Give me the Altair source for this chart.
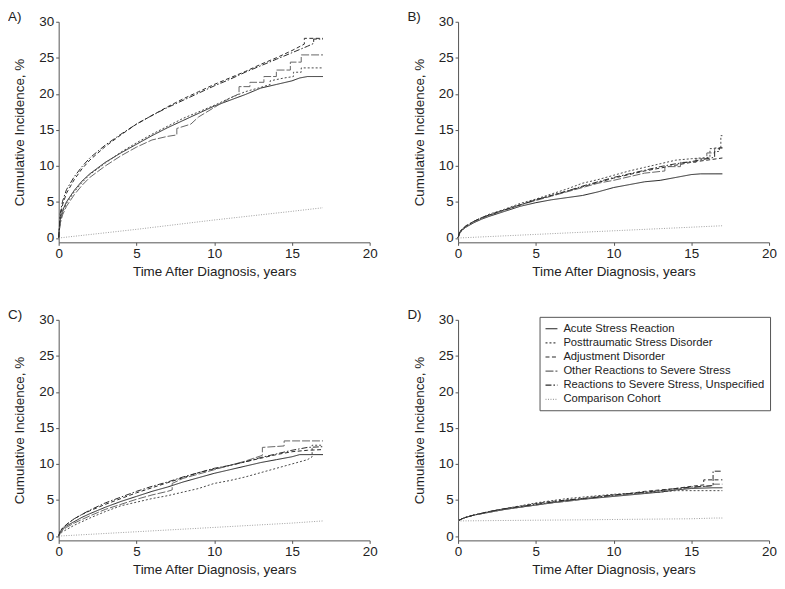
import altair as alt
import pandas as pd

SERIES = [
    "Acute Stress Reaction",
    "Posttraumatic Stress Disorder",
    "Adjustment Disorder",
    "Other Reactions to Severe Stress",
    "Reactions to Severe Stress, Unspecified",
    "Comparison Cohort",
]
COLORS = ["#222222", "#4a4a4a", "#2a2a2a", "#666666", "#2a2a2a", "#a0a0a0"]
DASHES = [[1, 0], [2, 2], [4, 2.5], [8, 2], [6, 2, 1.5, 2], [1, 1.5]]

X_TICKS = [0, 5, 10, 15, 20]
Y_TICKS = [0, 5, 10, 15, 20, 25, 30]

# ---- Panel A ----
A_ACUTE = [[0, 0], [0.1, 2.5], [0.25, 3.8], [0.5, 5.0], [1, 6.6], [1.5, 7.9], [2, 8.9], [3, 10.5], [4, 11.8],
           [5, 13.0], [6, 14.2], [7, 15.3], [8, 16.3], [9, 17.3], [10, 18.3], [11, 19.1], [12, 19.9],
           [13, 20.8], [14, 21.3], [15, 21.8], [15.5, 22.2], [16, 22.4], [17, 22.4]]
A_PTSD = [[0, 0], [0.1, 2.2], [0.25, 3.5], [0.5, 4.8], [1, 6.4], [1.5, 7.7], [2, 8.8], [3, 10.4], [4, 11.9],
          [5, 13.2], [6, 14.4], [7, 15.5], [8, 16.6], [9, 17.5], [10, 18.4], [11, 19.4], [12, 20.3],
          [13, 20.9], [13.6, 21.3], [13.6, 21.8], [14.5, 22.2], [15.1, 22.4], [15.1, 23.0], [15.6, 23.0],
          [15.6, 23.6], [17, 23.6]]
A_ADJ = [[0, 0], [0.1, 3.0], [0.25, 4.6], [0.5, 6.2], [1, 8.1], [1.5, 9.6], [2, 10.8], [3, 12.7], [4, 14.3],
         [5, 15.8], [6, 17.0], [7, 18.2], [8, 19.3], [9, 20.3], [10, 21.3], [11, 22.2], [12, 23.1],
         [13, 24.1], [14, 25.0], [15, 26.0], [15.8, 26.9], [15.8, 27.7], [17, 27.7]]
A_OTHER = [[0, 0], [0.1, 2.0], [0.25, 3.2], [0.5, 4.4], [1, 6.0], [1.5, 7.3], [2, 8.4], [3, 10.0], [4, 11.4],
           [5, 12.6], [6, 13.6], [7, 14.1], [7.6, 14.3], [7.6, 15.2], [8.5, 15.8], [9, 16.8], [10, 18.1],
           [11, 19.4], [11.6, 20.0], [11.6, 21.0], [12.3, 21.0], [12.3, 21.6], [13.2, 21.6], [13.2, 22.4],
           [14, 22.4], [14, 23.3], [14.9, 23.3], [14.9, 24.4], [15.6, 24.4], [15.6, 25.4], [17, 25.4]]
A_UNSP = [[0, 0], [0.1, 3.4], [0.25, 5.1], [0.5, 6.7], [1, 8.5], [1.5, 9.9], [2, 11.1], [3, 12.9], [4, 14.4],
          [5, 15.8], [6, 17.0], [7, 18.1], [8, 19.1], [9, 20.1], [10, 21.1], [11, 22.0], [12, 23.0],
          [13, 23.9], [14, 24.8], [15, 25.7], [16, 26.6], [16.4, 27.0], [16.4, 27.6], [17, 27.6]]
A_COMP = [[0, 0], [5, 1.2], [10, 2.5], [15, 3.7], [17, 4.2]]

# ---- Panel B ----
B_ACUTE = [[0, 0], [0.1, 0.7], [0.25, 1.1], [0.5, 1.5], [1, 2.1], [1.5, 2.6], [2, 3.0], [3, 3.7], [4, 4.4],
           [5, 4.9], [6, 5.3], [7, 5.6], [8, 5.9], [9, 6.4], [10, 7.0], [11, 7.4], [12, 7.8], [13, 8.0],
           [14, 8.4], [15, 8.8], [15.6, 8.9], [17, 8.9]]
B_PTSD = [[0, 0], [0.1, 0.8], [0.25, 1.2], [0.5, 1.6], [1, 2.3], [1.5, 2.8], [2, 3.3], [3, 4.0], [4, 4.8],
          [5, 5.4], [6, 6.1], [7, 6.8], [8, 7.6], [9, 8.1], [10, 8.7], [11, 9.3], [12, 9.8], [13, 10.3],
          [14, 10.8], [15, 11.0], [16.2, 11.2], [16.2, 12.4], [16.9, 12.4], [16.9, 14.2], [17, 14.2]]
B_ADJ = [[0, 0], [0.1, 0.8], [0.25, 1.2], [0.5, 1.6], [1, 2.3], [1.5, 2.8], [2, 3.2], [3, 3.9], [4, 4.6],
         [5, 5.3], [6, 5.9], [7, 6.5], [8, 7.1], [9, 7.7], [10, 8.3], [11, 8.8], [12, 9.3], [13, 9.7],
         [14, 10.1], [15, 10.5], [16, 10.8], [17, 11.1]]
B_OTHER = [[0, 0], [0.1, 0.6], [0.25, 1.0], [0.5, 1.5], [1, 2.2], [1.5, 2.7], [2, 3.1], [3, 3.9], [4, 4.6],
           [5, 5.2], [6, 5.8], [7, 6.4], [8, 7.0], [9, 7.6], [10, 8.0], [11, 8.5], [12, 9.0], [13.3, 9.3],
           [13.3, 9.9], [14.3, 9.9], [14.3, 10.5], [15.3, 10.5], [15.3, 11.0], [16.0, 11.0], [16.0, 11.8],
           [16.5, 11.8], [16.5, 12.5], [17, 12.5]]
B_UNSP = [[0, 0], [0.1, 0.8], [0.25, 1.2], [0.5, 1.7], [1, 2.3], [1.5, 2.8], [2, 3.2], [3, 3.9], [4, 4.6],
          [5, 5.3], [6, 5.9], [7, 6.5], [8, 7.2], [9, 7.8], [10, 8.4], [11, 8.9], [12, 9.4], [13, 9.9],
          [14, 10.3], [15, 10.6], [16, 11.0], [16.5, 11.2], [16.5, 12.0], [16.8, 12.0], [16.8, 12.5], [17, 12.5]]
B_COMP = [[0, 0], [5, 0.5], [10, 1.0], [15, 1.5], [17, 1.7]]

# ---- Panel C ----
C_ACUTE = [[0, 0], [0.1, 0.5], [0.25, 0.9], [0.5, 1.4], [1, 2.0], [1.5, 2.6], [2, 3.1], [3, 4.0], [4, 4.8],
           [5, 5.5], [6, 6.2], [7, 6.8], [8, 7.5], [9, 8.1], [10, 8.7], [11, 9.2], [12, 9.7], [13, 10.2],
           [14, 10.6], [15, 11.0], [15.5, 11.3], [17, 11.3]]
C_PTSD = [[0, 0], [0.1, 0.3], [0.25, 0.6], [0.5, 0.9], [1, 1.5], [2, 2.5], [3, 3.4], [4, 4.2], [5, 4.7],
          [6, 5.2], [7, 5.6], [8, 6.1], [9, 6.6], [10, 7.3], [11, 7.7], [12, 8.2], [13, 8.8], [14, 9.4],
          [15, 10.0], [16, 10.6], [16.3, 11.0], [16.3, 12.6], [17, 12.6]]
C_ADJ = [[0, 0], [0.1, 0.7], [0.25, 1.1], [0.5, 1.6], [1, 2.4], [1.5, 3.0], [2, 3.5], [3, 4.4], [4, 5.2],
         [5, 6.0], [6, 6.7], [7, 7.4], [8, 8.1], [9, 8.8], [10, 9.3], [11, 9.8], [12, 10.3], [13, 10.8],
         [14, 11.3], [15, 11.7], [16, 11.9], [17, 12.0]]
C_OTHER = [[0, 0], [0.1, 0.4], [0.25, 0.8], [0.5, 1.2], [1, 1.8], [2, 2.8], [3, 3.7], [4, 4.4], [5, 5.1],
           [6, 5.7], [7, 6.2], [7.3, 6.4], [7.3, 7.3], [8, 8.0], [9, 8.6], [10, 9.2], [11, 9.8], [12, 10.4],
           [13.1, 11.2], [13.1, 12.3], [14.5, 12.5], [14.5, 13.2], [17, 13.2]]
C_UNSP = [[0, 0], [0.1, 0.7], [0.25, 1.1], [0.5, 1.6], [1, 2.4], [1.5, 3.0], [2, 3.6], [3, 4.6], [4, 5.4],
          [5, 6.2], [6, 6.9], [7, 7.5], [8, 8.2], [9, 8.8], [10, 9.4], [11, 9.8], [12, 10.3], [13, 10.9],
          [14, 11.4], [15, 11.9], [16, 12.3], [17, 12.4]]
C_COMP = [[0, 0], [5, 0.6], [10, 1.2], [15, 1.8], [17, 2.1]]

# ---- Panel D ----
D_ACUTE = [[0, 2.1], [0.25, 2.4], [0.5, 2.6], [1, 2.9], [2, 3.3], [3, 3.7], [4, 4.0], [5, 4.3], [6, 4.6],
           [7, 4.9], [8, 5.1], [9, 5.3], [10, 5.5], [11, 5.7], [12, 5.9], [13, 6.1], [14, 6.4], [15, 6.6],
           [16.4, 6.7], [17, 6.7]]
D_PTSD = [[0, 2.1], [0.25, 2.4], [0.5, 2.6], [1, 2.9], [2, 3.4], [3, 3.8], [4, 4.2], [5, 4.6], [6, 4.9],
          [7, 5.2], [8, 5.4], [9, 5.6], [10, 5.8], [11, 5.9], [12, 6.0], [13, 6.1], [14, 6.3], [17, 6.3]]
D_ADJ = [[0, 2.1], [0.25, 2.4], [0.5, 2.6], [1, 2.9], [2, 3.4], [3, 3.8], [4, 4.1], [5, 4.5], [6, 4.8],
         [7, 5.0], [8, 5.2], [9, 5.5], [10, 5.7], [11, 5.9], [12, 6.2], [13, 6.4], [14, 6.6], [15, 6.9],
         [15.8, 7.1], [15.8, 7.8], [17, 7.8]]
D_OTHER = [[0, 2.1], [0.25, 2.4], [0.5, 2.6], [1, 2.9], [2, 3.3], [3, 3.7], [4, 4.0], [5, 4.3], [6, 4.6],
           [7, 4.8], [8, 5.1], [9, 5.4], [10, 5.6], [11, 5.8], [12, 6.0], [13, 6.3], [14, 6.5], [15, 6.7],
           [16.4, 7.0], [16.4, 7.2], [17, 7.2]]
D_UNSP = [[0, 2.1], [0.25, 2.4], [0.5, 2.6], [1, 2.9], [2, 3.4], [3, 3.8], [4, 4.1], [5, 4.4], [6, 4.7],
          [7, 5.0], [8, 5.2], [9, 5.4], [10, 5.7], [11, 5.9], [12, 6.1], [13, 6.3], [14, 6.6], [15, 6.8],
          [16.4, 7.0], [16.4, 9.0], [17, 9.0]]
D_COMP = [[0, 2.1], [5, 2.2], [8, 2.25], [10, 2.3], [15, 2.4], [16.5, 2.5], [17, 2.5]]

PANELS = [
    ("A)", [A_ACUTE, A_PTSD, A_ADJ, A_OTHER, A_UNSP, A_COMP]),
    ("B)", [B_ACUTE, B_PTSD, B_ADJ, B_OTHER, B_UNSP, B_COMP]),
    ("C)", [C_ACUTE, C_PTSD, C_ADJ, C_OTHER, C_UNSP, C_COMP]),
    ("D)", [D_ACUTE, D_PTSD, D_ADJ, D_OTHER, D_UNSP, D_COMP]),
]

FONT = "Liberation Sans"
W, H = 313, 222


def make_panel(label, series_list, show_legend):
    rows = []
    for name, pts in zip(SERIES, series_list):
        for i, (t, v) in enumerate(pts):
            rows.append({"series": name, "t": t, "v": v, "i": i})
    df = pd.DataFrame(rows)
    if show_legend:
        legend = alt.Legend(
            title=None, orient="none", legendX=82, legendY=-3,
            strokeColor="#555", fillColor="white", padding=5,
            labelFont=FONT, labelFontSize=11.3, labelColor="#222",
            symbolType="stroke", symbolSize=144, symbolStrokeWidth=1.2,
            labelOffset=5, rowPadding=1.2, labelLimit=400,
        )
    else:
        legend = None
    lines = alt.Chart(df).mark_line(strokeWidth=1, clip=False).encode(
        x=alt.X("t:Q", scale=alt.Scale(domain=[0, 20], nice=False),
                axis=alt.Axis(values=X_TICKS, title="Time After Diagnosis, years", grid=False,
                              labelFlush=False, tickSize=3, labelPadding=1, titlePadding=5)),
        y=alt.Y("v:Q", scale=alt.Scale(domain=[-0.6, 30], nice=False, zero=False),
                axis=alt.Axis(values=Y_TICKS, title="Cumulative Incidence, %", grid=False,
                              labelFlush=False, tickSize=3, labelPadding=2, titlePadding=12)),
        stroke=alt.Stroke("series:N", scale=alt.Scale(domain=SERIES, range=COLORS), legend=legend),
        strokeDash=alt.StrokeDash("series:N", scale=alt.Scale(domain=SERIES, range=DASHES), legend=legend),
        detail="series:N",
        order=alt.Order("i:Q"),
    )
    lab = alt.Chart(pd.DataFrame({"lab": [label]})).mark_text(
        align="left", baseline="middle", font=FONT, fontSize=13.5, color="#222"
    ).encode(text="lab:N", x=alt.value(-51), y=alt.value(-5))
    return alt.layer(lines, lab).properties(width=W, height=H)


pa = make_panel(*PANELS[0], False)
pb = make_panel(*PANELS[1], False)
pc = make_panel(*PANELS[2], False)
pd_ = make_panel(*PANELS[3], True)

row1 = alt.hconcat(pa, pb, spacing=30).resolve_legend(stroke="independent", strokeDash="independent")
row2 = alt.hconcat(pc, pd_, spacing=30).resolve_legend(stroke="independent", strokeDash="independent")

chart = alt.vconcat(row1, row2, spacing=30).resolve_legend(
    stroke="independent", strokeDash="independent"
).configure(padding=0, font=FONT).configure_view(stroke=None).configure_axis(
    labelFont=FONT, titleFont=FONT, labelFontSize=13.5, titleFontSize=13.5, titleFontWeight="normal",
    labelColor="#222", titleColor="#222", domainColor="#555", tickColor="#555",
)

chart.save("out.html", embed_options={"renderer": "svg", "actions": False})
